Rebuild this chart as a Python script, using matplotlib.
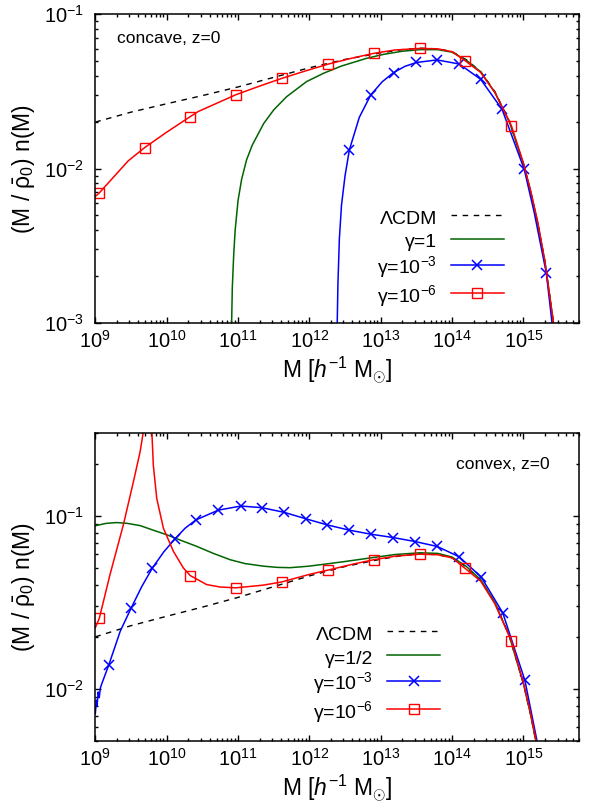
import numpy as np
import matplotlib
matplotlib.use('Agg')
import matplotlib.pyplot as plt
from matplotlib.ticker import LogLocator, FixedLocator, LogFormatterMathtext, NullFormatter

plt.rcParams['font.family'] = ['Liberation Sans', 'DejaVu Sans']
plt.rcParams['mathtext.fontset'] = 'custom'
plt.rcParams['mathtext.rm'] = 'Liberation Sans'
plt.rcParams['mathtext.it'] = 'Liberation Sans:italic'
plt.rcParams['mathtext.bf'] = 'Liberation Sans:bold'

# ---- LCDM reference (same in both panels), log10 M and (M/rho0) n(M)
lcdm_logm = [9.0, 9.5, 10.0, 10.5, 11.0, 11.5, 12.0, 12.5, 13.0, 13.3, 13.55, 13.8,
             14.0, 14.2, 14.4, 14.6, 14.8, 15.0, 15.1, 15.2, 15.3, 15.42]
lcdm_y = [0.0200, 0.0232, 0.0263, 0.0297, 0.0338, 0.0390, 0.0450, 0.0510, 0.0562, 0.0590,
          0.0603, 0.0597, 0.0572, 0.0507, 0.0425, 0.0315, 0.0203, 0.0107, 0.0071, 0.0044,
          0.0025, 0.0010]

# ---- top panel: concave
green_top_logm = [10.91, 10.92, 10.94, 10.96, 11.0, 11.05, 11.12, 11.2, 11.36, 11.5, 11.68,
                  11.96, 12.2, 12.45, 12.8, 13.04, 13.3, 13.55, 13.8, 14.0, 14.2, 14.4,
                  14.6, 14.8, 15.0, 15.1, 15.2, 15.3, 15.42]
green_top_y = [0.0010, 0.0017, 0.0028, 0.0040, 0.0062, 0.0085, 0.0114, 0.0142, 0.0196,
               0.0240, 0.0292, 0.0366, 0.0415, 0.0462, 0.0518, 0.0550, 0.0576, 0.0590,
               0.0590, 0.0568, 0.0503, 0.0424, 0.0312, 0.0202, 0.0107, 0.0071, 0.0044,
               0.0025, 0.0010]

blue_top_logm = [12.39, 12.40, 12.42, 12.45, 12.5, 12.56, 12.7, 12.86, 13.02, 13.18, 13.34,
                 13.5, 13.79, 14.10, 14.40, 14.70, 15.01, 15.15, 15.32, 15.40]
blue_top_y = [0.0010, 0.0018, 0.0035, 0.0058, 0.0090, 0.0132, 0.0215, 0.0300, 0.0365,
              0.0419, 0.0460, 0.0487, 0.0506, 0.0476, 0.0379, 0.0242, 0.0099, 0.0052,
              0.0021, 0.0010]
blue_top_marks = [12.56, 12.86, 13.18, 13.5, 13.79, 14.10, 14.40, 14.70, 15.01, 15.32]

red_top_logm = [9.0, 9.05, 9.46, 9.69, 10.0, 10.33, 10.44, 10.97, 11.3, 11.62, 11.95, 12.26,
                12.6, 12.9, 13.2, 13.55, 13.8, 14.0, 14.18, 14.4, 14.6, 14.83, 15.0, 15.1,
                15.2, 15.3, 15.42]
red_top_y = [0.0066, 0.0069, 0.0112, 0.01365, 0.0172, 0.0217, 0.0234, 0.0301, 0.0342,
             0.0385, 0.0430, 0.0475, 0.0520, 0.0558, 0.0587, 0.0601, 0.0597, 0.0572,
             0.0501, 0.0420, 0.0310, 0.0190, 0.0108, 0.0072, 0.0045, 0.0025, 0.0010]
red_top_marks = [9.05, 9.69, 10.33, 10.97, 11.62, 12.26, 12.9, 13.55, 14.18, 14.83]

# ---- bottom panel: convex
green_bot_logm = [9.0, 9.15, 9.30, 9.45, 9.627, 9.8, 10.0, 10.2, 10.42, 10.65, 10.89, 11.1,
                  11.36, 11.55, 11.73, 11.99, 12.23, 12.5, 12.9, 13.2, 13.55, 13.8, 14.0,
                  14.2, 14.4, 14.6, 14.8, 15.0, 15.1, 15.2, 15.3]
green_bot_y = [0.0877, 0.0905, 0.0915, 0.0905, 0.0879, 0.0830, 0.0778, 0.0722, 0.0667,
               0.0608, 0.0558, 0.0530, 0.0512, 0.0504, 0.0502, 0.0512, 0.0527, 0.0545,
               0.0575, 0.0598, 0.0612, 0.0607, 0.0578, 0.0510, 0.0428, 0.0315, 0.0203,
               0.0107, 0.0071, 0.0044, 0.0025]

blue_bot_logm = [9.0, 9.015, 9.025, 9.04, 9.055, 9.07, 9.09, 9.19, 9.35, 9.50, 9.65, 9.80,
                 9.96, 10.118, 10.26, 10.41, 10.725, 11.04, 11.33, 11.64, 11.955, 12.25,
                 12.56, 12.86, 13.17, 13.48, 13.79, 14.10, 14.41, 14.71, 15.02, 15.19, 15.25]
blue_bot_y = [0.0072, 0.0086, 0.0080, 0.0096, 0.0089, 0.0101, 0.0107, 0.0138, 0.0216,
              0.0292, 0.0390, 0.0500, 0.0620, 0.0738, 0.0850, 0.0948, 0.1080, 0.1140,
              0.1116, 0.1050, 0.0961, 0.0887, 0.0827, 0.0784, 0.0750, 0.0711, 0.0666,
              0.0580, 0.0442, 0.0275, 0.0112, 0.0050, 0.0035]
blue_bot_marks = [9.19, 9.50, 9.80, 10.118, 10.41, 10.725, 11.04, 11.33, 11.64, 11.955,
                  12.25, 12.56, 12.86, 13.17, 13.48, 13.79, 14.10, 14.41, 14.71, 15.02]

# spike between ~9.67 and ~9.8 leaves the frame (nan splits the two branches)
red_bot_logm = [9.0, 9.056, 9.206, 9.393, 9.533, 9.627, 9.70, np.nan, 9.785, 9.813, 9.861,
                9.954, 10.094, 10.234, 10.33, 10.56, 10.75, 10.97, 11.356, 11.61, 11.99,
                12.26, 12.6, 12.9, 13.2, 13.55, 13.8, 14.0, 14.18, 14.4, 14.6, 14.83, 15.0,
                15.1, 15.2, 15.3]
red_bot_y = [0.0226, 0.0256, 0.0458, 0.0888, 0.157, 0.234, 0.36, np.nan, 0.36, 0.196,
             0.126, 0.0849, 0.0624, 0.0500, 0.0452, 0.0401, 0.0388, 0.0384, 0.0398, 0.0415,
             0.0458, 0.0486, 0.0525, 0.0558, 0.0585, 0.0601, 0.0596, 0.0572, 0.0498, 0.0420,
             0.0310, 0.0190, 0.0108, 0.0072, 0.0045, 0.0025]
red_bot_marks = [9.056, 10.33, 10.97, 11.61, 12.26, 12.9, 13.55, 14.18, 14.83]

x_ticks = [1e9, 1e10, 1e11, 1e12, 1e13, 1e14, 1e15]
y_ticks_top = [1e-3, 1e-2, 1e-1]
y_ticks_bot = [1e-2, 1e-1]

GREEN = '#006400'
BLUE = '#0000ff'
RED = '#ff0000'


def mark_idx(logm, marks):
    return [i for i, m in enumerate(logm) if m in marks]


def style_axes(ax, ylim, yticks):
    ax.set_xscale('log')
    ax.set_yscale('log')
    ax.set_xlim(1e9, 6e15)
    ax.set_ylim(*ylim)
    ax.xaxis.set_major_locator(FixedLocator(x_ticks))
    ax.xaxis.set_minor_locator(LogLocator(base=10, subs=np.arange(2, 10), numticks=40))
    ax.yaxis.set_major_locator(FixedLocator(yticks))
    ax.yaxis.set_minor_locator(LogLocator(base=10, subs=np.arange(2, 10), numticks=40))
    ax.xaxis.set_major_formatter(LogFormatterMathtext())
    ax.yaxis.set_major_formatter(LogFormatterMathtext())
    ax.xaxis.set_minor_formatter(NullFormatter())
    ax.yaxis.set_minor_formatter(NullFormatter())
    ax.tick_params(which='both', direction='in', top=True, right=True, width=1.0)
    ax.tick_params(which='major', length=4.0, labelsize=14.5)
    ax.tick_params(axis='y', which='major', pad=8)
    ax.tick_params(axis='x', which='major', pad=5)
    ax.tick_params(which='minor', length=2.2)
    for s in ax.spines.values():
        s.set_linewidth(1.1)
    ax.set_xlabel(r'M [$\mathit{h}^{-1}$ M$_{\odot}$]', fontsize=16.5, labelpad=2)
    ax.set_ylabel(r'(M / $\bar{\mathrm{\rho}}_0$) n(M)', fontsize=16.5, labelpad=5)


def draw_panel(ax, green, blue, red, green_label):
    x = lambda l: 10.0 ** np.asarray(l, dtype=float)
    ax.plot(x(lcdm_logm), lcdm_y, color='black', ls=(0, (4, 4)), lw=1.0, label='ΛCDM')
    ax.plot(x(green[0]), green[1], color=GREEN, lw=1.1, label=green_label)
    ax.plot(x(blue[0]), blue[1], color=BLUE, lw=1.1, marker='x', ms=6.5, mew=1.1,
            markevery=mark_idx(blue[0], blue[2]), label='γ=10$^{-3}$')
    ax.plot(x(red[0]), red[1], color=RED, lw=1.1, marker='s', ms=6.5, mew=1.0, mfc='none',
            markevery=mark_idx(red[0], red[2]), label='γ=10$^{-6}$')


fig = plt.figure(figsize=(6.01, 8.08), dpi=100)
ax1 = fig.add_axes([0.1586, 0.6006, 0.8048, 0.3817])
ax2 = fig.add_axes([0.1586, 0.0829, 0.8048, 0.3808])

draw_panel(ax1, (green_top_logm, green_top_y), (blue_top_logm, blue_top_y, blue_top_marks),
           (red_top_logm, red_top_y, red_top_marks), 'γ=1')
draw_panel(ax2, (green_bot_logm, green_bot_y), (blue_bot_logm, blue_bot_y, blue_bot_marks),
           (red_bot_logm, red_bot_y, red_bot_marks), 'γ=1/2')

style_axes(ax1, (1e-3, 1e-1), y_ticks_top)
style_axes(ax2, (5e-3, 0.3), y_ticks_bot)

ax1.text(0.044, 0.92, 'concave, z=0', transform=ax1.transAxes, fontsize=12.5,
         ha='left', va='center')
ax2.text(0.94, 0.90, 'convex, z=0', transform=ax2.transAxes, fontsize=12.5,
         ha='right', va='center')

# tall handle boxes give every legend row the same height, like gnuplot's key
leg_kw = dict(loc='upper right', frameon=False, markerfirst=False, fontsize=14,
              handlelength=2.73, handletextpad=0.72, handleheight=1.3, labelspacing=0.14,
              borderpad=0, borderaxespad=0)
ax1.legend(bbox_to_anchor=(0.845, 0.377), **leg_kw)
ax2.legend(bbox_to_anchor=(0.713, 0.385), **leg_kw)

fig.savefig('out.png', dpi=100)
